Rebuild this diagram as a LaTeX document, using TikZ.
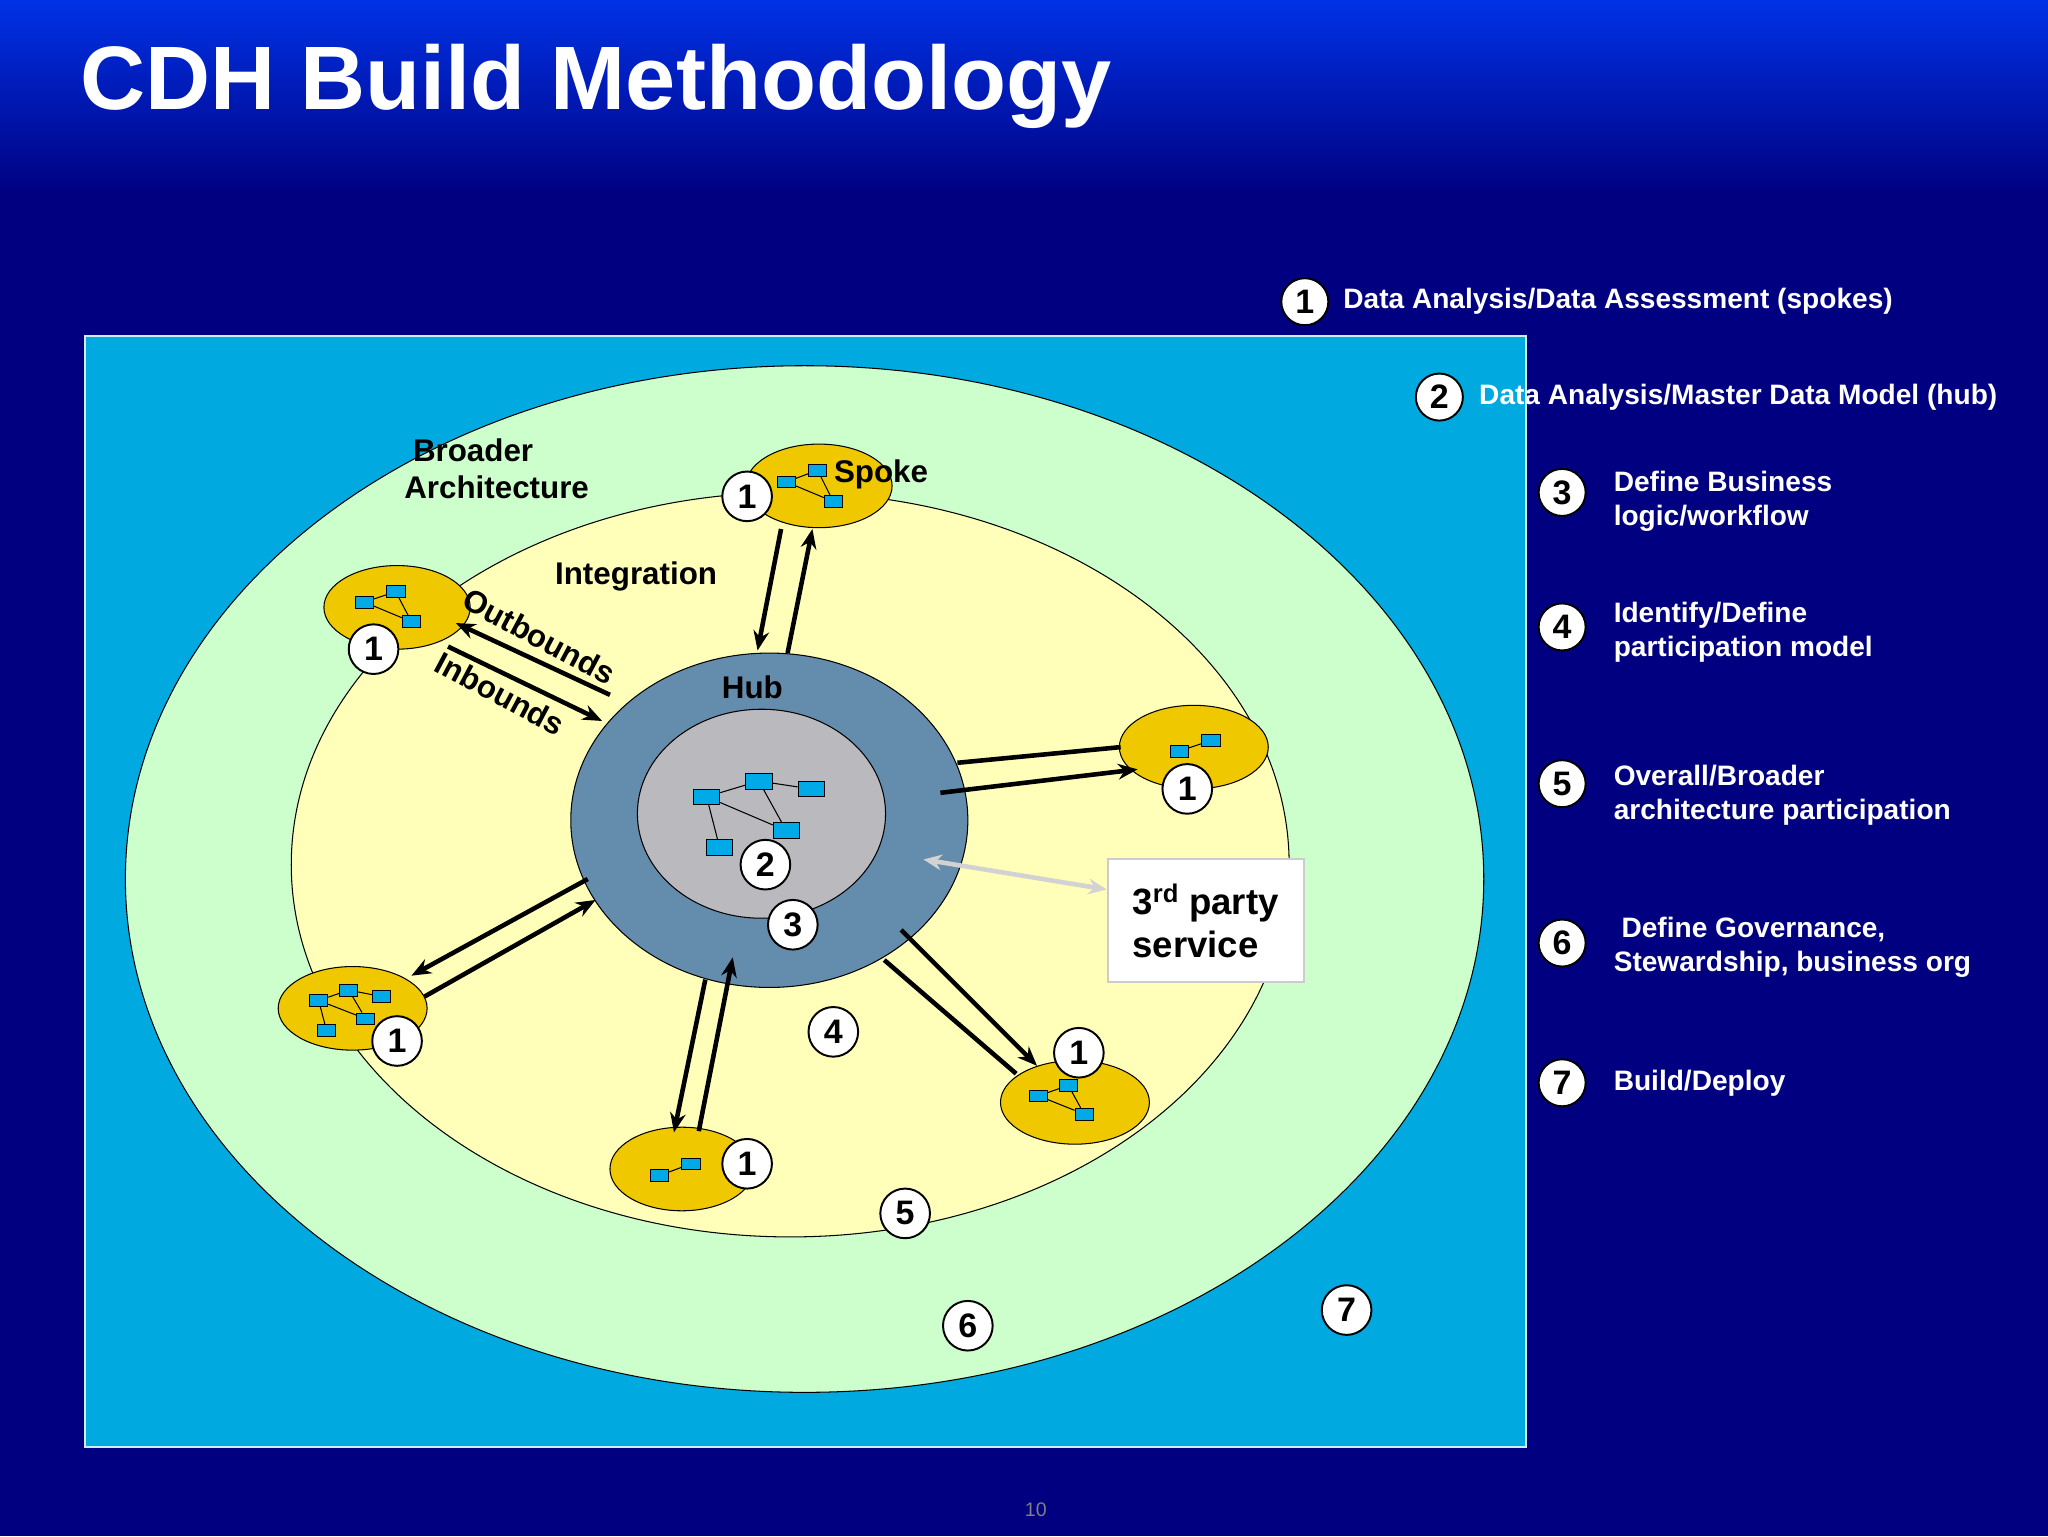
\documentclass[tikz,border=0pt]{standalone}
\usepackage{fontspec}
\setmainfont{Liberation Sans}
\usetikzlibrary{arrows.meta}
\definecolor{navy}{RGB}{0,0,128}
\definecolor{topblue}{RGB}{0,50,230}
\definecolor{cyanbg}{RGB}{0,170,225}
\definecolor{lgreen}{RGB}{204,255,204}
\definecolor{lyellow}{RGB}{255,255,185}
\definecolor{hubblue}{RGB}{100,140,172}
\definecolor{hubgray}{RGB}{185,185,190}
\definecolor{gold}{RGB}{240,200,0}
\definecolor{icon}{RGB}{0,170,230}
\tikzset{
 num/.style={circle,draw=black,fill=white,line width=1.5pt,minimum size=38pt,inner sep=0pt,font=\fontsize{26}{26}\selectfont\bfseries},
 lnum/.style={num,minimum size=36pt},
 spoke/.style={fill=gold,draw=black,line width=0.8pt},
 arr/.style={line width=3.5pt,-{Stealth[length=15pt,width=12pt]}},
 lab/.style={font=\fontsize{24}{28}\selectfont\bfseries,text=black,align=center},
 leg/.style={font=\fontsize{21.5}{26}\selectfont\bfseries,text=white,anchor=west,align=left},
 ic/.style={draw=black,fill=icon,line width=0.6pt,minimum width=14pt,minimum height=9pt,inner sep=0pt},
 icl/.style={line width=0.8pt}
}
\begin{document}
\begin{tikzpicture}[x=1pt,y=-1pt]
\useasboundingbox (0,0) rectangle (1568,1176);
\fill[navy] (0,0) rectangle (1568,1176);
\shade[top color=topblue,bottom color=navy] (0,0) rectangle (1568,150);
\node[anchor=west,text=white,font=\fontsize{69}{69}\selectfont\bfseries] (title) at (58,66) {CDH Build Methodology};
\node[text=gray,font=\fontsize{15}{15}\selectfont] (pg) at (793,1156) {10};
% main panel
\draw[fill=cyanbg,draw=white!80!cyanbg,line width=1.5pt] (65,257) rectangle (1168,1108);
\draw[fill=lgreen,line width=0.8pt] (616,673) ellipse [x radius=520pt,y radius=393pt];
\draw[fill=lyellow,line width=0.8pt] (605,662) ellipse [x radius=382pt,y radius=285pt];
\draw[fill=hubblue,line width=0.8pt] (589,628) ellipse [x radius=152pt,y radius=128pt];
\draw[fill=hubgray,line width=0.8pt] (583,623) ellipse [x radius=95pt,y radius=80pt];
% spokes
\draw[spoke] (627,372) ellipse [x radius=56pt,y radius=32pt];
\draw[spoke] (304,465) ellipse [x radius=56pt,y radius=32pt];
\draw[spoke] (914,572) ellipse [x radius=57pt,y radius=32pt];
\draw[spoke] (270,772) ellipse [x radius=57pt,y radius=32pt];
\draw[spoke] (522,895) ellipse [x radius=55pt,y radius=32pt];
\draw[spoke] (823,844) ellipse [x radius=57pt,y radius=32pt];
% hub icon
\node[ic,minimum width=20pt,minimum height=12pt] (h1) at (541,610) {};
\node[ic,minimum width=20pt,minimum height=12pt] (h2) at (581,598) {};
\node[ic,minimum width=20pt,minimum height=12pt] (h3) at (621,604) {};
\node[ic,minimum width=20pt,minimum height=12pt] (h4) at (602,636) {};
\node[ic,minimum width=20pt,minimum height=12pt] (h5) at (551,649) {};
\draw[icl] (h1)--(h2) (h2)--(h3) (h1)--(h4) (h2)--(h4) (h1)--(h5);
% spoke icons
\node[ic] (a1) at (602,369) {}; \node[ic] (a2) at (626,360) {}; \node[ic] (a3) at (638,384) {};
\draw[icl] (a1)--(a2) (a1)--(a3) (a2)--(a3);
\node[ic] (b1) at (279,461) {}; \node[ic] (b2) at (303,453) {}; \node[ic] (b3) at (315,476) {};
\draw[icl] (b1)--(b2) (b1)--(b3) (b2)--(b3);
\node[ic] (c1) at (903,575) {}; \node[ic] (c2) at (927,567) {};
\draw[icl] (c1)--(c2);
\node[ic] (d1) at (244,766) {}; \node[ic] (d2) at (267,758) {}; \node[ic] (d3) at (292,763) {}; \node[ic] (d4) at (280,780) {}; \node[ic] (d5) at (250,789) {};
\draw[icl] (d1)--(d2) (d2)--(d3) (d1)--(d4) (d2)--(d4) (d1)--(d5);
\node[ic] (e1) at (505,900) {}; \node[ic] (e2) at (529,891) {};
\draw[icl] (e1)--(e2);
\node[ic] (f1) at (795,839) {}; \node[ic] (f2) at (818,831) {}; \node[ic] (f3) at (830,853) {};
\draw[icl] (f1)--(f2) (f1)--(f3) (f2)--(f3);
% arrows
\coordinate (t1) at (598,405); \coordinate (t2) at (580,498);
\coordinate (t3) at (603,500); \coordinate (t4) at (622,405);
\draw[arr] (t1)--(t2); \draw[arr] (t3)--(t4);
\coordinate (l1) at (467,532); \coordinate (l2) at (349,477);
\coordinate (l3) at (343,495); \coordinate (l4) at (461,552);
\draw[arr] (l1)--(l2); \draw[arr] (l3)--(l4);
\coordinate (r1) at (733,584); \coordinate (r2) at (858,572);
\coordinate (r3) at (720,607); \coordinate (r4) at (871,589);
\draw[line width=3.5pt] (r1)--(r2); \draw[arr] (r3)--(r4);
\coordinate (s1) at (450,673); \coordinate (s2) at (315,747);
\coordinate (s3) at (325,763); \coordinate (s4) at (456,689);
\draw[arr] (s1)--(s2); \draw[arr] (s3)--(s4);
\coordinate (u1) at (540,750); \coordinate (u2) at (516,867);
\coordinate (u3) at (535,866); \coordinate (u4) at (561,733);
\draw[arr] (u1)--(u2); \draw[arr] (u3)--(u4);
\coordinate (v1) at (690,712); \coordinate (v2) at (794,816);
\coordinate (v3) at (677,735); \coordinate (v4) at (778,822);
\draw[arr] (v1)--(v2); \draw[line width=3.5pt] (v3)--(v4);
% third party
\node[draw=gray!40,fill=white,line width=1.5pt,minimum width=150pt,minimum height=94pt,font=\fontsize{28}{33}\selectfont\bfseries,align=left] (tp) at (923,705) {3\textsuperscript{rd} party\\service};
\coordinate (g1) at (707,658);
\draw[line width=3.5pt,draw=gray!35,{Stealth[length=14pt,width=12pt]}-{Stealth[length=14pt,width=12pt]}] (g1)--(tp.west|-0,681);
% labels
\node[lab,align=left,anchor=west] (ba) at (306,359) {\ Broader\\Architecture};
\node[lab] (int) at (487,441) {Integration};
\node[lab,anchor=west] (sp) at (635,363) {Spoke};
\node[lab] (hub) at (576,526) {Hub};
\node[lab,rotate=-28] (ob) at (413,487) {Outbounds};
\node[lab,rotate=-28] (ib) at (383,531) {Inbounds};
% numbers
\node[num] (n1a) at (572,380) {1};
\node[num] (n1b) at (286,497) {1};
\node[num] (n1c) at (909,604) {1};
\node[num] (n1d) at (304,797) {1};
\node[num] (n1e) at (572,891) {1};
\node[num] (n1f) at (826,806) {1};
\node[num] (n2) at (586,662) {2};
\node[num] (n3) at (607,708) {3};
\node[num] (n4) at (638,790) {4};
\node[num] (n5) at (693,929) {5};
\node[num] (n6) at (741,1015) {6};
\node[num] (n7) at (1031,1003) {7};
% legend
\node[lnum] (k1) at (999,231) {1};
\node[leg] (k1t) at (1025,231) {Data Analysis/Data Assessment (spokes)};
\node[lnum] (k2) at (1102,304) {2};
\node[leg] (k2t) at (1129,304) {Data Analysis/Master Data Model (hub)};
\node[lnum] (k3) at (1196,377) {3};
\node[leg] (k3t) at (1232,384) {Define Business\\logic/workflow};
\node[lnum] (k4) at (1196,480) {4};
\node[leg] (k4t) at (1232,484) {Identify/Define\\participation model};
\node[lnum] (k5) at (1196,600) {5};
\node[leg] (k5t) at (1232,609) {Overall/Broader\\architecture participation};
\node[lnum] (k6) at (1196,722) {6};
\node[leg] (k6t) at (1232,725) {\ Define Governance,\\Stewardship, business org};
\node[lnum] (k7) at (1196,829) {7};
\node[leg] (k7t) at (1232,829) {Build/Deploy};
\end{tikzpicture}
\end{document}
